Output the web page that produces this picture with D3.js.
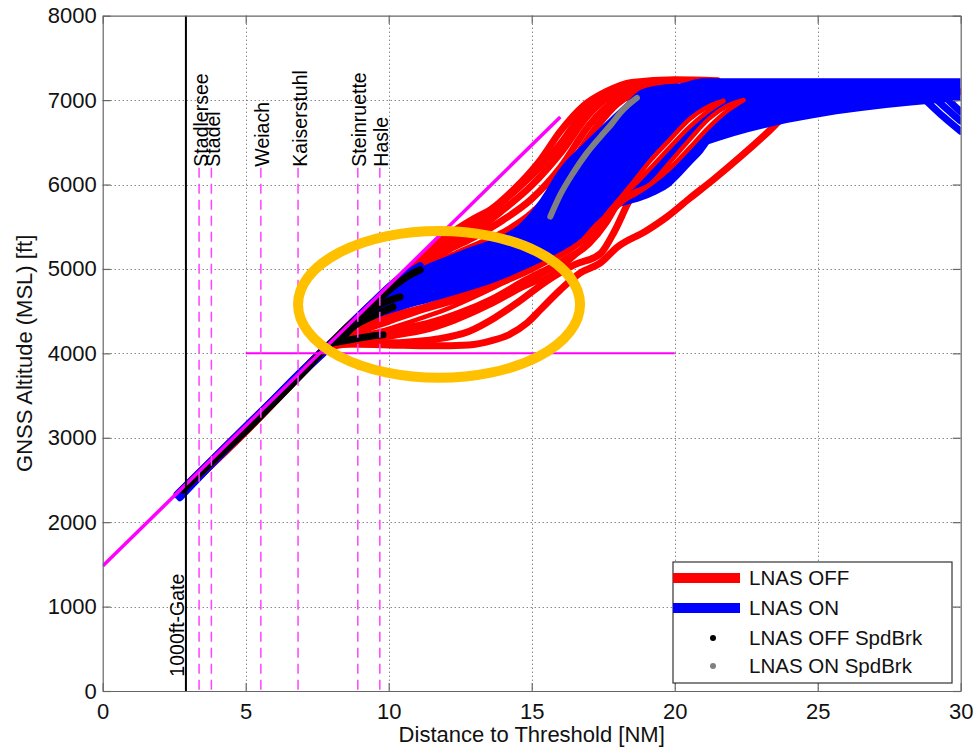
<!DOCTYPE html>
<html>
<head>
<meta charset="utf-8">
<script src="https://cdn.jsdelivr.net/npm/d3@7"></script>
<style>
  body { margin: 0; background: #fff; }
  svg { display: block; font-family: Arial, "Liberation Sans", Helvetica, sans-serif; }
</style>
</head>
<body>
<script>
// ---- data ----
const xTicks = [0, 5, 10, 15, 20, 25, 30]
const yTicks = [0, 1000, 2000, 3000, 4000, 5000, 6000, 7000, 8000]

const stationNames = ['Stadlersee', 'Stadel', 'Weiach', 'Kaiserstuhl', 'Steinruette', 'Hasle']
const stationNM = [3.37, 3.8, 5.53, 6.83, 8.92, 9.69]
const stationTopFt = 6200
const gateNM = 2.91

const glideSlope = [[0, 1480], [16, 6800]]
const levelLine = [[5, 4000], [20, 4000]]
const ellipse = { cx: 11.76, cy: 4580, rx: 4.93, ry: 870 }

// LNAS OFF flights plotted before the ON flights
const offTracks = [
  [[2.8,2390],[4,2800],[5.5,3300],[7,3800],[8.5,4300],[10,4780],[11,5080],[12,5380],[13,5600],[13.55,5700],[14.4,5950],[15.3,6290],[16,6630],[16.8,6930],[17.6,7100],[18.5,7210],[20,7240],[21.5,7230]],
  [[3,2440],[4.5,2960],[6,3460],[7.5,3960],[9,4440],[10,4750],[11,5040],[12,5310],[13,5520],[14,5800],[15,6110],[16,6480],[16.8,6850],[17.5,7060],[18.5,7180],[20,7210]],
  [[2.9,2380],[4.4,2900],[5.8,3380],[7.2,3850],[8.6,4300],[10,4730],[11,5020],[12,5250],[13,5440],[14,5700],[15,5990],[16,6370],[17,6830],[17.8,7060],[19,7180]],
  [[3.1,2450],[4.8,3030],[6.4,3570],[7.8,4060],[9,4420],[10,4700],[11,4990],[12,5210],[13,5380],[14,5580],[15,5830],[16,6200],[17,6700],[18,7020],[19,7160]],
  [[3.2,2480],[5,3100],[7,3780],[8.3,4190],[9.5,4500],[11,4950],[12.5,5200],[14,5430],[15,5660],[16,6030],[17,6560],[18,6960],[19,7130],[20,7180]],
  [[2.7,2350],[4,2780],[5.5,3280],[7,3800],[7.8,4050],[8.5,4110],[10,4100],[11.5,4090],[12.8,4100],[13.6,4150],[14.2,4220],[14.84,4361],[15.3,4515],[16,4752],[16.7,4953],[17.4,5072],[18,5261],[19,5450],[19.73,5617],[20.5,5830],[21.34,6055],[22.3,6330],[23.23,6612],[24.38,6980],[25.1,7090],[27,7100],[30,7100]],
  [[2.8,2360],[4.2,2830],[5.8,3370],[7.2,3860],[7.9,4080],[9,4120],[10.5,4130],[11.7,4170],[12.8,4260],[13.7,4420],[14.5,4600],[15.5,4850],[16.5,5050],[17.4,5180],[17.9,5450],[18.4,5800],[19,6100],[19.8,6450],[20.8,6850],[21.8,7050],[23,7080]],
  [[2.9,2400],[5,3080],[7,3770],[8,4100],[9,4200],[10.2,4280],[11.3,4350],[12.5,4480],[13.6,4640],[14.8,4870],[16,5080],[17,5300],[17.6,5550],[18.2,5900],[19.2,6300],[20.3,6750],[21.3,7000],[22.5,7100]],
  [[3,2420],[5.2,3140],[7.1,3820],[8,4120],[9.2,4300],[10.3,4450],[11.4,4560],[12.6,4700],[13.8,4880],[15,5050],[16.2,5250],[17,5450],[17.6,5700],[18.2,6000],[19,6350],[20,6800],[21,7050],[22,7120]],
  [[3.1,2450],[5.4,3210],[7.3,3870],[8.1,4120],[9,4260],[10,4380],[11,4500],[12,4600],[13,4700],[14,4850],[15,5000],[16,5200],[17,5420],[17.6,5720],[18.3,6050],[19,6350],[20,6800],[21,7050],[22,7150]]
]

// band covered by the dense LNAS ON flights
const onBandUpper = [[7.9,4150],[8.7,4380],[9.5,4620],[10.3,4850],[11.3,5050],[12.1,5160],[12.85,5260],[13.9,5390],[14.6,5540],[15.3,5830],[16,6200],[16.7,6450],[17.4,6680],[18.3,6970],[18.8,7120],[19.5,7180],[20.2,7200],[21,7260],[30,7260]]
const onBandLower = [[7.9,4050],[8.6,4200],[9.36,4400],[10.5,4560],[11.35,4640],[12.85,4790],[14.24,4950],[15.54,5140],[16.4,5300],[17.14,5580],[17.74,5735],[18.3,5800],[18.8,5850],[19.3,5920],[19.73,6000],[20.1,6120],[20.54,6280],[20.9,6410],[21.3,6600],[21.8,6770],[22.6,6970],[23.8,6995],[30,6990]]

const onTracks = [
  [[2.6,2330],[4,2800],[5.5,3300],[7,3800],[7.9,4100],[8.6,4250],[9.4,4400],[10.5,4560],[11.35,4640],[12.85,4790],[14.24,4950],[15.54,5140],[16.4,5300],[17.14,5580],[17.74,5735],[18.3,5800],[18.8,5850],[19.3,5920],[19.73,6000],[20.1,6120],[20.54,6280],[20.9,6410],[21.3,6600],[21.8,6770],[22.6,6970],[23.8,7040],[25,7030]],
  [[2.6,2320],[3.5,2620],[4.5,2950],[5.5,3290],[6.5,3640],[7.5,3970],[8.3,4230],[9.3,4560],[10.3,4870],[11.1,5040]],
  [[2.7,2290],[3.8,2680],[5,3090],[6.2,3500],[7.4,3900],[8.2,4150]],
  [[28.8,6990],[29.4,6800],[30,6630]],
  [[29.2,6990],[29.6,6870],[30,6750]],
  [[29.6,6990],[30,6860]]
]

// LNAS OFF flights plotted after the ON flights (they show over the blue)
const offTracksLate = [
  [[3,2430],[5.1,3120],[7.2,3840],[8.1,4110],[9.2,4180],[10.4,4250],[11.6,4340],[12.8,4480],[14,4680],[15.2,4900],[16.3,5120],[17,5330],[17.6,5600],[18.1,5840],[18.6,6050],[19.14,6280],[19.8,6520],[20.54,6780],[21.1,6910],[21.7,6990]],
  [[2.9,2400],[5,3090],[7.1,3800],[8,4100],[9.4,4230],[10.8,4380],[12,4520],[13.2,4700],[14.4,4900],[15.6,5100],[16.8,5350],[17.5,5600],[18.1,5840],[18.6,6000],[19.14,6190],[19.8,6430],[20.54,6690],[21.1,6850],[21.7,6990]],
  [[3.1,2460],[5.3,3180],[7.3,3880],[8.1,4120],[9.3,4350],[10.5,4490],[11.8,4590],[13,4720],[14.2,4880],[15.4,5060],[16.4,5230],[17.2,5450],[17.8,5720],[18.5,5900],[19.14,6000],[19.8,6250],[20.54,6540],[21.2,6780],[21.83,6930],[22.4,7000]],
  [[2.8,2370],[4.6,2970],[6.6,3650],[7.9,4070],[9.1,4150],[10.2,4200],[11.2,4260],[12.3,4380],[13.5,4560],[14.6,4760],[15.8,4960],[16.8,5250],[17.5,5550],[18.2,5800],[18.7,5900],[19.14,6000],[19.8,6180],[20.54,6440],[21.2,6680],[21.83,6870],[22.4,7000]]
]
// pairs of late tracks that open a white gap between them
const lensPairs = [[0, 1, 18.1, 21.7], [2, 3, 19.14, 22.4]]

// speed brake segments
const offSpdBrk = [
  [[2.8,2380],[4,2770],[5,3080],[6,3420],[7,3770],[7.85,4077],[8.6,4300],[9.4,4560],[10.2,4800],[10.7,4920],[11.1,4990]],
  [[8.0,4120],[8.6,4330],[9.3,4500],[9.9,4610],[10.4,4669]],
  [[8.3,4150],[8.75,4310],[9.5,4450],[10.15,4550]],
  [[8.05,4124],[8.8,4170],[9.3,4200],[9.8,4219]]
]
const onSpdBrk = [
  [[15.65,5620],[16.0,5880],[16.45,6138],[16.9,6360],[17.4,6565],[17.8,6720],[18.1,6850],[18.4,6950],[18.68,7027]]
]

const legendItems = ['LNAS OFF', 'LNAS ON', 'LNAS OFF SpdBrk', 'LNAS ON SpdBrk']
const legendColors = ['#ff0000', '#0000ff', '#000000', '#808080']

// ---- chart ----
const width = 974
const height = 750
const mLeft = 102.7, mRight = 960.7, mTop = 15.7, mBottom = 691

const x = d3.scaleLinear().domain([0, 30]).range([mLeft, mRight])
const y = d3.scaleLinear().domain([0, 8000]).range([mBottom, mTop])

const svg = d3
  .select('body')
  .append('svg')
  .attr('width', width)
  .attr('height', height)

svg.append('rect').attr('width', width).attr('height', height).attr('fill', '#fff')

svg
  .append('clipPath')
  .attr('id', 'plot-clip')
  .append('rect')
  .attr('x', mLeft)
  .attr('y', mTop)
  .attr('width', mRight - mLeft)
  .attr('height', mBottom - mTop)

// dotted grid
const grid = svg.append('g').attr('stroke', '#555').attr('stroke-width', 1).attr('stroke-dasharray', '1,3')
grid
  .selectAll('.gx')
  .data(xTicks.slice(1, -1))
  .join('line')
  .attr('x1', d => Math.round(x(d)) + 0.5)
  .attr('x2', d => Math.round(x(d)) + 0.5)
  .attr('y1', mTop)
  .attr('y2', mBottom)
grid
  .selectAll('.gy')
  .data(yTicks.slice(1, -1))
  .join('line')
  .attr('y1', d => Math.round(y(d)) + 0.5)
  .attr('y2', d => Math.round(y(d)) + 0.5)
  .attr('x1', mLeft)
  .attr('x2', mRight)

const line = d3
  .line()
  .x(d => x(d[0]))
  .y(d => y(d[1]))
  .curve(d3.curveMonotoneX)

const plotArea = svg.append('g').attr('clip-path', 'url(#plot-clip)')

function drawTracks(data, color, w) {
  plotArea
    .append('g')
    .selectAll('path')
    .data(data)
    .join('path')
    .attr('d', line)
    .attr('fill', 'none')
    .attr('stroke', color)
    .attr('stroke-width', w)
    .attr('stroke-linecap', 'round')
    .attr('stroke-linejoin', 'round')
}

drawTracks(offTracks, '#ff0000', 7)

// dense ON band
const interp = pts => d3.scaleLinear().domain(pts.map(d => d[0])).range(pts.map(d => d[1])).clamp(true)
const bandLower = interp(onBandLower)
const area = d3
  .area()
  .x(d => x(d[0]))
  .y0(d => y(bandLower(d[0])))
  .y1(d => y(d[1]))
  .curve(d3.curveMonotoneX)
plotArea.append('path').datum(onBandUpper).attr('d', area).attr('fill', '#0000ff')

drawTracks(onTracks, '#0000ff', 7)

// white gaps between paired late tracks, then the late tracks themselves
lensPairs.forEach(([a, b, x0, x1]) => {
  const lo = interp(offTracksLate[b])
  const pts = offTracksLate[a].filter(d => d[0] >= x0 && d[0] <= x1)
  plotArea
    .append('path')
    .datum(pts)
    .attr(
      'd',
      d3
        .area()
        .x(d => x(d[0]))
        .y0(d => y(lo(d[0])))
        .y1(d => y(d[1]))
        .curve(d3.curveMonotoneX)
    )
    .attr('fill', '#fff')
})
drawTracks(offTracksLate, '#ff0000', 4.5)
drawTracks(offSpdBrk, '#000000', 7)
drawTracks(onSpdBrk, '#808080', 6)

// reference lines
const straight = d3.line().x(d => x(d[0])).y(d => y(d[1]))
plotArea
  .append('path')
  .attr('d', straight(glideSlope))
  .attr('stroke', '#ff00ff')
  .attr('stroke-width', 3.5)
  .attr('fill', 'none')
plotArea
  .append('path')
  .attr('d', straight(levelLine))
  .attr('stroke', '#ff00ff')
  .attr('stroke-width', 2)
  .attr('fill', 'none')

svg
  .append('g')
  .selectAll('line')
  .data(stationNM)
  .join('line')
  .attr('x1', d => x(d))
  .attr('x2', d => x(d))
  .attr('y1', y(stationTopFt))
  .attr('y2', mBottom)
  .attr('stroke', '#ff44ff')
  .attr('stroke-width', 1.5)
  .attr('stroke-dasharray', '10,6')

svg
  .append('g')
  .selectAll('text')
  .data(stationNames)
  .join('text')
  .attr('transform', (d, i) => `translate(${x(stationNM[i]) + 8.5},${y(stationTopFt) - 1}) rotate(-90)`)
  .attr('font-size', 19.5)
  .attr('fill', '#000')
  .text(d => d)

svg
  .append('line')
  .attr('x1', x(gateNM))
  .attr('x2', x(gateNM))
  .attr('y1', mTop)
  .attr('y2', mBottom)
  .attr('stroke', '#000')
  .attr('stroke-width', 2)
svg
  .append('text')
  .attr('transform', `translate(${x(gateNM) - 2},${y(170)}) rotate(-90)`)
  .attr('font-size', 19.5)
  .text('1000ft-Gate')

// highlight ellipse
svg
  .append('ellipse')
  .attr('cx', x(ellipse.cx))
  .attr('cy', y(ellipse.cy))
  .attr('rx', x(ellipse.rx) - x(0))
  .attr('ry', y(0) - y(ellipse.ry))
  .attr('fill', 'none')
  .attr('stroke', '#ffc000')
  .attr('stroke-width', 10)

// axes
const axisColor = '#666'
const yAxis = svg
  .append('g')
  .attr('transform', `translate(${mLeft},0)`)
  .call(d3.axisLeft(y).tickValues(yTicks).tickFormat(d3.format('d')).tickSizeInner(-8).tickSizeOuter(0).tickPadding(6))
const xAxis = svg
  .append('g')
  .attr('transform', `translate(0,${mBottom})`)
  .call(d3.axisBottom(x).tickValues(xTicks).tickFormat(d3.format('d')).tickSizeInner(-8).tickSizeOuter(0).tickPadding(12))
const yAxisR = svg
  .append('g')
  .attr('transform', `translate(${mRight},0)`)
  .call(d3.axisRight(y).tickValues(yTicks).tickSizeInner(-8).tickSizeOuter(0).tickFormat(''))
const xAxisT = svg
  .append('g')
  .attr('transform', `translate(0,${mTop})`)
  .call(d3.axisTop(x).tickValues(xTicks).tickSizeInner(-8).tickSizeOuter(0).tickFormat(''))

;[yAxis, xAxis, yAxisR, xAxisT].forEach(g => {
  g.selectAll('path, line').attr('stroke', axisColor).attr('stroke-width', 1.2)
  g.selectAll('text').attr('font-size', 22).attr('fill', '#111').attr('font-family', null)
})

svg
  .append('text')
  .attr('x', (mLeft + mRight) / 2)
  .attr('y', 742)
  .attr('text-anchor', 'middle')
  .attr('font-size', 22)
  .attr('fill', '#111')
  .text('Distance to Threshold [NM]')
svg
  .append('text')
  .attr('transform', `translate(32,${(mTop + mBottom) / 2}) rotate(-90)`)
  .attr('text-anchor', 'middle')
  .attr('font-size', 22)
  .attr('fill', '#111')
  .text('GNSS Altitude (MSL) [ft]')

// legend
const legend = svg.append('g').attr('transform', 'translate(673,562)')
legend
  .append('rect')
  .attr('width', 279)
  .attr('height', 121)
  .attr('fill', '#fff')
  .attr('stroke', '#333')
  .attr('stroke-width', 1.2)
const rows = legend
  .selectAll('.row')
  .data(legendItems)
  .join('g')
  .attr('transform', (d, i) => `translate(0,${[16, 46, 76, 104][i]})`)
rows
  .filter((d, i) => i < 2)
  .append('line')
  .attr('x1', 0)
  .attr('x2', 67)
  .attr('stroke', (d, i) => legendColors[i])
  .attr('stroke-width', 10)
rows
  .filter((d, i) => i >= 2)
  .append('circle')
  .attr('cx', 40)
  .attr('r', 3)
  .attr('fill', (d, i) => legendColors[i + 2])
rows
  .append('text')
  .attr('x', 76)
  .attr('dy', '0.36em')
  .attr('font-size', 20.5)
  .attr('fill', '#111')
  .text(d => d)
</script>
</body>
</html>
